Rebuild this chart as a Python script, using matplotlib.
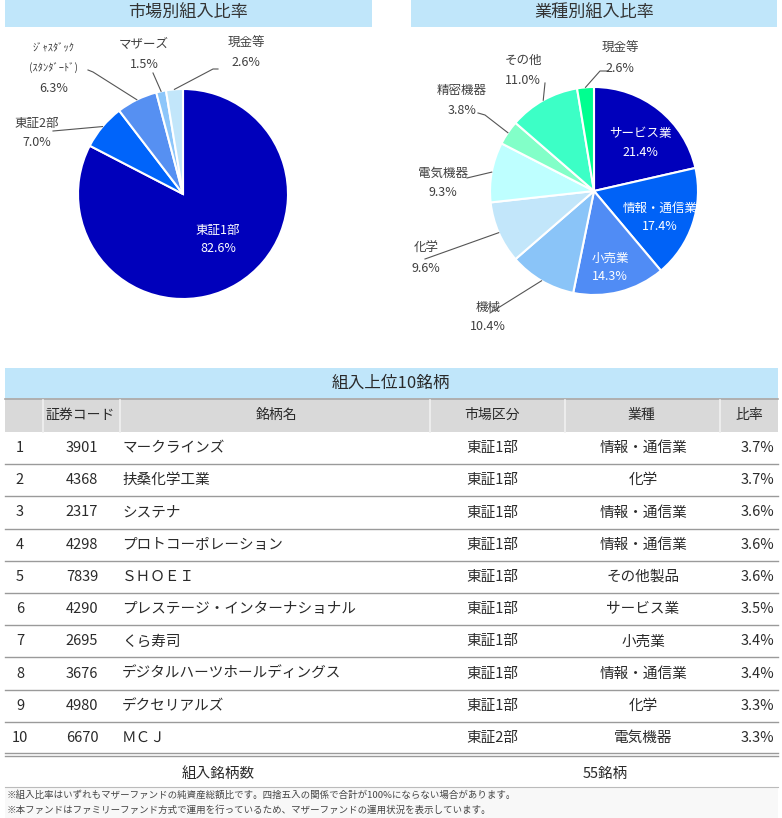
import matplotlib.pyplot as plt
import numpy as np

plt.rcParams['font.family'] = ['Noto Sans CJK JP', 'DejaVu Sans']

# --- data ---
market_labels = ['東証1部', '東証2部', 'ｼﾞｬｽﾀﾞｯｸ\n(ｽﾀﾝﾀﾞｰﾄﾞ)', 'マザーズ', '現金等']
market_values = [82.6, 7.0, 6.3, 1.5, 2.6]
market_colors = ['#0000BB', '#0064FA', '#5690F2', '#8CC6FA', '#C2E6FA']

sector_labels = ['サービス業', '情報・通信業', '小売業', '機械', '化学', '電気機器',
                 '精密機器', 'その他', '現金等']
sector_values = [21.4, 17.4, 14.3, 10.4, 9.6, 9.3, 3.8, 11.0, 2.6]
sector_colors = ['#0000BB', '#0062F7', '#508CF5', '#8AC4F8', '#C2E6FA', '#BEFFFF',
                 '#82FFC8', '#3CFFC6', '#00FF90']

rank = list(range(1, 11))
codes = ['3901', '4368', '2317', '4298', '7839', '4290', '2695', '3676', '4980', '6670']
names = ['マークラインズ', '扶桑化学工業', 'システナ', 'プロトコーポレーション', 'ＳＨＯＥＩ',
         'プレステージ・インターナショナル', 'くら寿司', 'デジタルハーツホールディングス',
         'デクセリアルズ', 'ＭＣＪ']
markets = ['東証1部'] * 9 + ['東証2部']
sectors = ['情報・通信業', '化学', '情報・通信業', '情報・通信業', 'その他製品', 'サービス業',
           '小売業', '情報・通信業', '化学', '電気機器']
ratios = [3.7, 3.7, 3.6, 3.6, 3.6, 3.5, 3.4, 3.4, 3.3, 3.3]
n_holdings = 55

W, H = 782, 818
BAND = '#C0E6FA'
TXT = '#2A2A2A'

fig = plt.figure(figsize=(W / 100, H / 100), dpi=100)
ax = fig.add_axes([0, 0, 1, 1])
ax.set_xlim(0, W)
ax.set_ylim(H, 0)
ax.axis('off')


def band(x0, x1, y0, y1, color):
    ax.fill_between([x0, x1], y0, y1, color=color, lw=0)


# title bands for the pies
band(5, 372, 0, 27, BAND)
band(411, 777, 0, 27, BAND)
ax.text(188, 13, '市場別組入比率', ha='center', va='center', fontsize=12.3, color='#333333')
ax.text(594, 13, '業種別組入比率', ha='center', va='center', fontsize=12.3, color='#333333')


def draw_pie(cx, cy, r, values, colors, labels, inside, outside):
    half = 180
    pa = fig.add_axes([(cx - half) / W, 1 - (cy + half) / H, 2 * half / W, 2 * half / H])
    wedges, _ = pa.pie(values, colors=colors, startangle=90, counterclock=False,
                       wedgeprops=dict(edgecolor='white', linewidth=1.5))
    pa.set_xlim(-half / r, half / r)
    pa.set_ylim(-half / r, half / r)
    pa.axis('off')

    def d(px, py):
        return (px - cx) / r, (cy - py) / r

    for i, (w, lab, val) in enumerate(zip(wedges, labels, values)):
        if i in inside:
            tx, ty = inside[i]
            pa.text(*d(tx, ty), lab, ha='center', va='center', color='white', fontsize=9)
            pa.text(*d(tx, ty + 19), f'{val:.1f}%', ha='center', va='center',
                    color='white', fontsize=9)
        else:
            (tx, ty), knees = outside[i]
            mid = np.deg2rad((w.theta1 + w.theta2) / 2)
            pts = [(np.cos(mid), np.sin(mid))] + [d(*k) for k in knees]
            xs, ys = zip(*pts)
            pa.plot(xs, ys, color='#555555', lw=0.8)
            nl = lab.count('\n') + 1
            for j, line in enumerate(lab.split('\n') + [f'{val:.1f}%']):
                fs = 7.5 if nl > 1 and j < nl else 9
                pa.text(*d(tx, ty + 20 * j), line, ha='center', va='center',
                        color='#404040', fontsize=fs)


draw_pie(183, 194, 105, market_values, market_colors, market_labels,
         inside={0: (218, 230)},
         outside={1: ((37, 123), [(53, 131)]),
                  2: ((54, 48), [(93, 72), (88, 70)]),
                  3: ((144, 44), [(153, 73)]),
                  4: ((246, 43), [(213, 69), (218, 69)])})

draw_pie(594, 191, 104, sector_values, sector_colors, sector_labels,
         inside={0: (640, 133), 1: (660, 208), 2: (610, 258)},
         outside={3: ((488, 307), [(490, 313)]),
                  4: ((426, 248), [(425, 259)]),
                  5: ((443, 173), [(467, 178)]),
                  6: ((462, 90), [(485, 115), (478, 113)]),
                  7: ((523, 60), [(545, 83)]),
                  8: ((620, 48), [(600, 71), (608, 71)])})

# --- table ---
band(5, 778, 368, 398, BAND)
ax.text(391, 383, '組入上位10銘柄', ha='center', va='center', fontsize=12, color=TXT)
band(5, 778, 398, 432, '#D9D9D9')
ax.plot([5, 778], [399, 399], color='#A8A8A8', lw=1.2)
for x in [43, 120, 430, 565, 720]:
    ax.plot([x, x], [400, 432], color='#F0F0F0', lw=1.2)
hdr_y = 415
ax.text(80, hdr_y, '証券コード', ha='center', va='center', fontsize=10, color=TXT)
ax.text(276, hdr_y, '銘柄名', ha='center', va='center', fontsize=10, color=TXT)
ax.text(492, hdr_y, '市場区分', ha='center', va='center', fontsize=10, color=TXT)
ax.text(641, hdr_y, '業種', ha='center', va='center', fontsize=10, color=TXT)
ax.text(749, hdr_y, '比率', ha='center', va='center', fontsize=10, color=TXT)

top, rh = 432, 32.2
for i in range(len(codes)):
    yc = top + rh * (i + 0.5)
    kw = dict(va='center', fontsize=10.5, color=TXT)
    ax.text(20, yc, str(rank[i]), ha='center', **kw)
    ax.text(82, yc, codes[i], ha='center', **kw)
    ax.text(122, yc, names[i], ha='left', **kw)
    ax.text(492, yc, markets[i], ha='center', **kw)
    ax.text(643, yc, sectors[i], ha='center', **kw)
    ax.text(774, yc, f'{ratios[i]:.1f}%', ha='right', **kw)
    yb = top + rh * (i + 1)
    if i < len(codes) - 1:
        ax.plot([5, 778], [yb, yb], color='#9A9A9A', lw=1)
    else:
        ax.plot([5, 778], [yb - 1.5, yb - 1.5], color='#9A9A9A', lw=1)
        ax.plot([5, 778], [yb + 1.5, yb + 1.5], color='#9A9A9A', lw=1)

ax.text(218, 774, '組入銘柄数', ha='center', va='center', fontsize=10.5, color=TXT)
ax.text(605, 774, f'{n_holdings}銘柄', ha='center', va='center', fontsize=10.5, color=TXT)
ax.plot([5, 778], [787, 787], color='#BBBBBB', lw=0.8)
band(5, 778, 788, 818, '#F8F8F8')
ax.text(7, 795, '※組入比率はいずれもマザーファンドの純資産総額比です。四捨五入の関係で合計が100%にならない場合があります。',
        ha='left', va='center', fontsize=6.8, color='#444444')
ax.text(7, 810, '※本ファンドはファミリーファンド方式で運用を行っているため、マザーファンドの運用状況を表示しています。',
        ha='left', va='center', fontsize=6.8, color='#444444')

fig.savefig('out.png', dpi=100)
